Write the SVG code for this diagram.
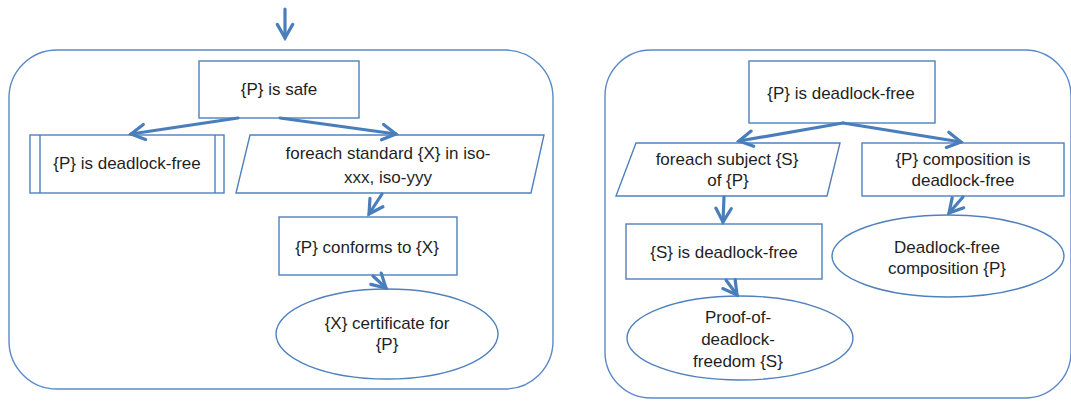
<svg xmlns="http://www.w3.org/2000/svg" width="1071" height="404" viewBox="0 0 1071 404">
  <defs>
    <style>
      .frame { fill: none; stroke: #5b8ac6; stroke-width: 1.4; }
      .shape { fill: #ffffff; stroke: #4f81bd; stroke-width: 1.4; }
      .flow { fill: none; stroke: #4a7ebb; stroke-width: 3.2; stroke-linecap: round; marker-end: url(#head); }
      text { font-family: "Liberation Sans", Arial, sans-serif; font-size: 17px; fill: #1f1f1f; text-anchor: middle; }
    </style>
    <marker id="head" viewBox="0 0 12 12" refX="10" refY="6" markerWidth="6" markerHeight="6" orient="auto" markerUnits="strokeWidth">
      <path d="M1.5,1.2 L10,6 L1.5,10.8" fill="none" stroke="#4a7ebb" stroke-width="2" stroke-linecap="round" stroke-linejoin="miter"/>
    </marker>
  </defs>

  <rect fill="#ffffff" x="0" y="0" width="1071" height="404"/>

  <!-- left group: safety check -->
  <g id="safety-frame">
    <rect class="frame" x="9" y="50" width="544" height="339" rx="48" ry="48"/>
  </g>

  <g id="p-is-safe">
    <rect class="shape" x="199" y="61" width="160" height="57"/>
    <text x="279" y="95">{P} is safe</text>
  </g>

  <g id="p-is-deadlock-free-sub">
    <rect class="shape" x="30" y="135" width="194" height="58"/>
    <line class="shape" x1="40" y1="135" x2="40" y2="193"/>
    <line class="shape" x1="215" y1="135" x2="215" y2="193"/>
    <text x="127" y="169">{P} is deadlock-free</text>
  </g>

  <g id="foreach-standard">
    <polygon class="shape" points="250,135 544,135 531,193 236,193"/>
    <text x="388" y="159">foreach standard {X} in iso-</text>
    <text x="388" y="183">xxx, iso-yyy</text>
  </g>

  <g id="p-conforms-to-x">
    <rect class="shape" x="279" y="217" width="178" height="58"/>
    <text x="367" y="253">{P} conforms to {X}</text>
  </g>

  <g id="x-certificate">
    <ellipse class="shape" cx="387" cy="334" rx="111" ry="45"/>
    <text x="387" y="329">{X} certificate for</text>
    <text x="387" y="350">{P}</text>
  </g>

  <!-- right group: deadlock freedom -->
  <g id="deadlock-frame">
    <rect class="frame" x="605" y="50" width="466" height="348" rx="46" ry="46"/>
  </g>

  <g id="p-is-deadlock-free">
    <rect class="shape" x="749" y="61" width="186" height="62"/>
    <text x="841" y="99">{P} is deadlock-free</text>
  </g>

  <g id="foreach-subject">
    <polygon class="shape" points="636,143 840,143 827,196 616,196"/>
    <text x="727" y="165">foreach subject {S}</text>
    <text x="728" y="186">of {P}</text>
  </g>

  <g id="p-composition">
    <rect class="shape" x="862" y="143" width="202" height="53"/>
    <text x="963" y="165">{P} composition is</text>
    <text x="963" y="186">deadlock-free</text>
  </g>

  <g id="s-is-deadlock-free">
    <rect class="shape" x="626" y="224" width="196" height="55"/>
    <text x="724" y="258">{S} is deadlock-free</text>
  </g>

  <g id="deadlock-free-composition">
    <ellipse class="shape" cx="948" cy="256" rx="116" ry="41"/>
    <text x="947" y="253">Deadlock-free</text>
    <text x="947" y="274">composition {P}</text>
  </g>

  <g id="proof-of-deadlock-freedom">
    <ellipse class="shape" cx="740" cy="338" rx="113" ry="42"/>
    <text x="738" y="323">Proof-of-</text>
    <text x="738" y="345">deadlock-</text>
    <text x="738" y="367">freedom {S}</text>
  </g>

  <!-- connectors -->
  <g id="connectors">
    <line class="flow" x1="285" y1="9" x2="285" y2="38"/>
    <line class="flow" x1="238" y1="118" x2="131" y2="134"/>
    <line class="flow" x1="280" y1="118" x2="396" y2="134"/>
    <line class="flow" x1="382" y1="194" x2="369" y2="214"/>
    <line class="flow" x1="373" y1="276" x2="386" y2="288"/>
    <line class="flow" x1="843" y1="123" x2="739" y2="141"/>
    <line class="flow" x1="843" y1="123" x2="961" y2="142"/>
    <line class="flow" x1="724" y1="197" x2="723" y2="222"/>
    <line class="flow" x1="726" y1="280" x2="737" y2="295"/>
    <line class="flow" x1="963" y1="197" x2="949" y2="213"/>
  </g>
</svg>
